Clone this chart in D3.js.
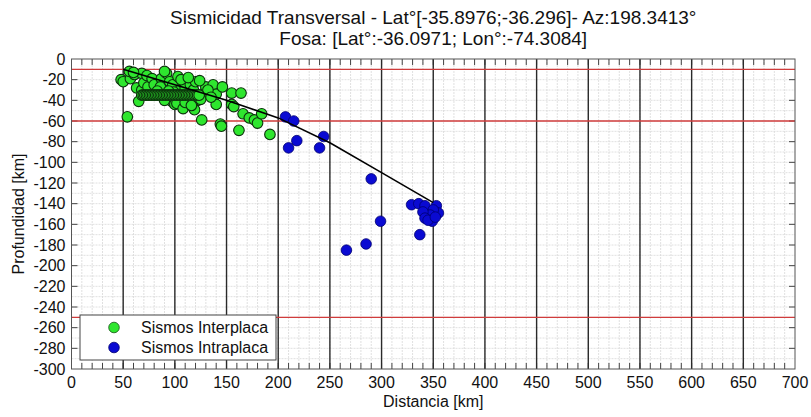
<!DOCTYPE html>
<html><head><meta charset="utf-8">
<script src="https://cdn.jsdelivr.net/npm/d3@7"></script>
<style>body{margin:0;background:#fff}svg{display:block}text{font-family:"Liberation Sans",Arial,sans-serif}</style>
</head><body><svg id="c" width="811" height="417"></svg>
<script>
const titleLines = ["Sismicidad Transversal - Lat°[-35.8976;-36.296]- Az:198.3413°", "Fosa: [Lat°:-36.0971; Lon°:-74.3084]"];
const xLabel = "Distancia [km]", yLabel = "Profundidad [km]";
const xTicks = [0,50,100,150,200,250,300,350,400,450,500,550,600,650,700];
const yTicks = [0,-20,-40,-60,-80,-100,-120,-140,-160,-180,-200,-220,-240,-260,-280,-300];
const redLines = [-10,-60,-250];
const majorX = [50,100,150,200,250,300,350,400,450,500,550,600,650];
// slab profile line
const slabDist = [50,100,150,200,250,300,350];
const slabDepth = [-10,-25,-40,-57,-81,-110,-139];
// Interplaca events (distance km, depth km)
const interDist = [48,50,54,57,56,61,63,65,68,68,70,73,74,78,80,60,87,86,92,95,97,98,100,102,103,105,108,108,110,112,115,118,119,120,122,126,128,130,137,140,140,144,145,146,155,155,157,162,164,166,172,177,180,184,192,
  83,90,99,106,113,117,124,132,110,116,125,135,90,94,
  68,69.5,71,72.5,74,75.5,77,78.5,80,81.5,83,84.5,86,87.5,89,90.5,92,93.5,95,96.5,98,99.5,101,102.5,104,105.5,107,108.5,110,111.5,113,114.5,116,117.5,119,120.5,122,123.5];
const interDepth = [-20,-22,-56,-19,-12,-15,-28,-41,-14,-30,-23,-16,-27,-19,-25,-13,-19,-27,-14,-22,-41,-25,-44,-43,-17,-30,-48,-22,-28,-38,-25,-30,-49,-22,-40,-59,-33,-27,-25,-34,-44,-63,-65,-27,-33,-44,-46,-69,-33,-53,-57,-59,-62,-53,-73,
  -31,-40,-32,-20,-18,-42,-21,-30,-42,-45,-39,-37,-12,-31,
  -35,-35,-35,-35,-35,-35,-35,-35,-35,-35,-35,-35,-35,-35,-35,-35,-35,-35,-35,-35,-35,-35,-35,-35,-35,-35,-35,-35,-35,-35,-35,-35,-35,-35,-35,-35,-35,-35];
// Intraplaca events
const intraDist = [207,215,218,210,244,240,290,299,285,266,337,329,336,342,353,355,350,347,340,342,349,345,352];
const intraDepth = [-56,-60,-79,-86,-75,-86,-116,-157,-179,-185,-170,-141,-140,-142,-142,-149,-146,-151,-148,-154,-157,-156,-153];
const legendLabels = ["Sismos Interplaca","Sismos Intraplaca"];

const svg = d3.select("#c");
const L=71.5, R=795, T=59, B=369;
const x = d3.scaleLinear().domain([0,700]).range([L,R]);
const y = d3.scaleLinear().domain([0,-300]).range([T,B]);
const g = svg.append("g");

// minor grid
g.append("g").selectAll("line").data(d3.range(10,700,10)).join("line")
  .attr("x1",d=>x(d)).attr("x2",d=>x(d)).attr("y1",T).attr("y2",B)
  .attr("stroke","#d8d8d8").attr("stroke-width",0.8).attr("stroke-dasharray","2,1");
g.append("g").selectAll("line").data(d3.range(-10,-300,-10)).join("line")
  .attr("y1",d=>y(d)).attr("y2",d=>y(d)).attr("x1",L).attr("x2",R)
  .attr("stroke","#d8d8d8").attr("stroke-width",0.8).attr("stroke-dasharray","2,1");
// ticks inside
const tk = g.append("g").attr("stroke","#444").attr("stroke-width",1);
d3.range(10,700,10).forEach(d=>{
  tk.append("line").attr("x1",x(d)).attr("x2",x(d)).attr("y1",T).attr("y2",T+6);
  tk.append("line").attr("x1",x(d)).attr("x2",x(d)).attr("y1",B).attr("y2",B-6);
});
yTicks.slice(1,-1).forEach(d=>{
  tk.append("line").attr("y1",y(d)).attr("y2",y(d)).attr("x1",L).attr("x2",L+6);
  tk.append("line").attr("y1",y(d)).attr("y2",y(d)).attr("x1",R).attr("x2",R-6);
});
// major verticals
g.append("g").selectAll("line").data(majorX).join("line")
  .attr("x1",d=>x(d)).attr("x2",d=>x(d)).attr("y1",T).attr("y2",B)
  .attr("stroke","#2a2a2a").attr("stroke-width",1.4);
// red lines
g.append("g").selectAll("line").data(redLines).join("line")
  .attr("y1",d=>y(d)).attr("y2",d=>y(d)).attr("x1",L).attr("x2",R)
  .attr("stroke","#d03c3c").attr("stroke-width",1.4);
// frame
g.append("rect").attr("x",L).attr("y",T).attr("width",R-L).attr("height",B-T)
  .attr("fill","none").attr("stroke","#555").attr("stroke-width",1);

// points
const inter = interDist.map((d,i)=>[d,interDepth[i]]);
const intra = intraDist.map((d,i)=>[d,intraDepth[i]]);
g.append("g").selectAll("circle").data(inter).join("circle")
  .attr("cx",d=>x(d[0])).attr("cy",d=>y(d[1])).attr("r",5.3)
  .attr("fill","#2ee62e").attr("stroke","#0c300c").attr("stroke-width",1.1);
g.append("g").selectAll("circle").data(intra).join("circle")
  .attr("cx",d=>x(d[0])).attr("cy",d=>y(d[1])).attr("r",5.3)
  .attr("fill","#0a0ad2").attr("stroke","#000070").attr("stroke-width",0.8);
// slab line
g.append("path").datum(slabDist.map((d,i)=>[d,slabDepth[i]]))
  .attr("d",d3.line().x(d=>x(d[0])).y(d=>y(d[1])))
  .attr("fill","none").attr("stroke","#000").attr("stroke-width",1.6);

// tick labels
g.append("g").selectAll("text").data(xTicks).join("text")
  .attr("x",d=>x(d)).attr("y",B+19).attr("text-anchor","middle")
  .attr("font-size",16).attr("fill","#111").text(d=>d);
g.append("g").selectAll("text").data(yTicks).join("text")
  .attr("x",L-6).attr("y",d=>y(d)+5.5).attr("text-anchor","end")
  .attr("font-size",16).attr("fill","#111").text(d=>d);
// axis labels
svg.append("text").attr("x",(L+R)/2).attr("y",407).attr("text-anchor","middle")
  .attr("font-size",16).attr("fill","#111").text(xLabel);
svg.append("text").attr("transform",`translate(24,${(T+B)/2}) rotate(-90)`).attr("text-anchor","middle")
  .attr("font-size",16).attr("fill","#111").text(yLabel);
// title
titleLines.forEach((t,i)=>svg.append("text").attr("x",(L+R)/2).attr("y",24+i*21)
  .attr("text-anchor","middle").attr("font-size",19).attr("fill","#111").text(t));

// legend
const lg = svg.append("g");
lg.append("rect").attr("x",80).attr("y",315).attr("width",196).attr("height",45)
  .attr("fill","#fff").attr("stroke","#444").attr("stroke-width",1);
const legCol = [["#2ee62e","#145214"],["#0a0ad2","#000070"]];
legendLabels.forEach((t,i)=>{
  lg.append("circle").attr("cx",114).attr("cy",327.5+i*20).attr("r",5.3)
    .attr("fill",legCol[i][0]).attr("stroke",legCol[i][1]).attr("stroke-width",0.8);
  lg.append("text").attr("x",141).attr("y",333+i*20).attr("font-size",16).attr("fill","#111").text(t);
});
</script></body></html>
